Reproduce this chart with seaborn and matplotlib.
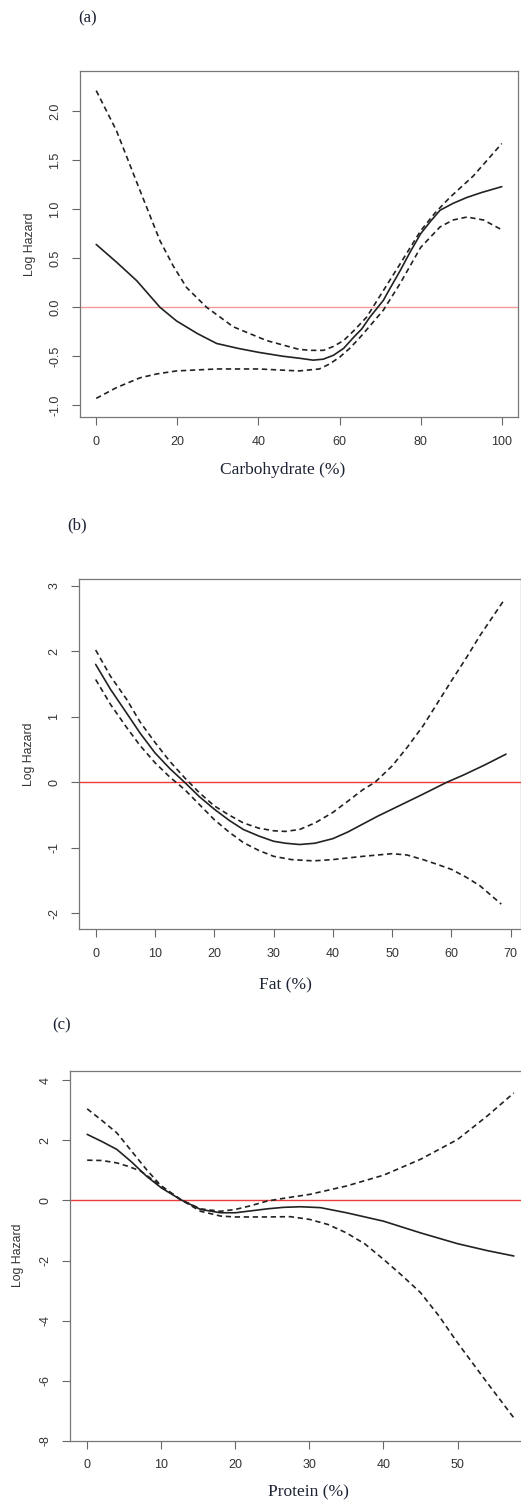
import numpy as np
import pandas as pd
import matplotlib
matplotlib.use('Agg')
import matplotlib.pyplot as plt
import seaborn as sns

sns.set_style("white")
plt.rcParams['font.family'] = ['Liberation Sans', 'DejaVu Sans']

# (a) Carbohydrate
carb_x = [0, 5, 10, 15.7, 19.8, 25, 29.7, 35, 40, 46, 50, 53.5, 56, 58.5, 61, 63.4, 65.5, 67.5, 70.8, 72, 74.9, 77.5, 80, 82.5, 84.8, 88, 91.4, 95, 100]
carb_fit = [0.64, 0.46, 0.27, 0.0, -0.14, -0.27, -0.37, -0.42, -0.46, -0.50, -0.52, -0.54, -0.53, -0.49, -0.42, -0.31, -0.22, -0.10, 0.07, 0.16, 0.37, 0.57, 0.75, 0.88, 0.99, 1.06, 1.12, 1.17, 1.23]
carb_up_x = [0, 5, 10.8, 15.7, 19, 22.3, 27.2, 33.8, 42, 50, 53, 56, 58.5, 61, 63.5, 66.7, 70.8, 74.9, 80, 83.5, 87.2, 93, 100]
carb_up = [2.21, 1.80, 1.19, 0.68, 0.42, 0.20, 0.0, -0.20, -0.34, -0.43, -0.44, -0.44, -0.40, -0.34, -0.24, -0.10, 0.17, 0.44, 0.78, 0.96, 1.12, 1.34, 1.67]
carb_lo_x = [0, 5, 10.8, 15, 19.8, 29.7, 40, 50, 55, 57.5, 60, 62.5, 65, 67.5, 70.8, 74.9, 80, 84.8, 88, 91.4, 95.5, 100]
carb_lo = [-0.93, -0.82, -0.72, -0.68, -0.65, -0.63, -0.63, -0.65, -0.63, -0.58, -0.51, -0.42, -0.31, -0.19, -0.03, 0.24, 0.61, 0.82, 0.89, 0.92, 0.89, 0.79]

# (b) Fat
fat_x = [0, 2.5, 5.2, 7.5, 10, 12.5, 15, 17.5, 20, 22.5, 24.9, 27.5, 30, 32, 34.4, 37, 40, 42.5, 45, 47.5, 50, 55, 59.2, 62, 65.5, 69.2]
fat_fit = [1.80, 1.42, 1.06, 0.75, 0.45, 0.21, 0.0, -0.22, -0.41, -0.58, -0.72, -0.82, -0.90, -0.93, -0.95, -0.93, -0.86, -0.76, -0.64, -0.52, -0.41, -0.19, 0.0, 0.11, 0.26, 0.43]
fat_up_x = [0, 2.5, 5.2, 7.5, 10, 12.5, 15, 17.5, 20, 22.5, 24.9, 27.5, 30, 32, 34.4, 37, 40, 42.5, 45.1, 47.1, 50, 52.5, 55.2, 57.5, 60, 62.5, 64.8, 69]
fat_up = [2.02, 1.62, 1.27, 0.92, 0.61, 0.32, 0.07, -0.16, -0.36, -0.50, -0.62, -0.70, -0.74, -0.75, -0.72, -0.62, -0.46, -0.29, -0.11, 0.0, 0.25, 0.53, 0.86, 1.19, 1.55, 1.90, 2.24, 2.80]
fat_lo_x = [0, 2.5, 5.2, 7.5, 10, 12.5, 15, 17.5, 20, 22.5, 24.9, 27.5, 30, 33, 36.7, 40, 45.1, 50, 52.5, 55.2, 57.5, 60, 62.5, 64.8, 68.4]
fat_lo = [1.57, 1.19, 0.84, 0.56, 0.30, 0.08, -0.11, -0.34, -0.57, -0.76, -0.92, -1.04, -1.13, -1.18, -1.20, -1.18, -1.13, -1.09, -1.11, -1.18, -1.25, -1.33, -1.45, -1.58, -1.86]

# (c) Protein
prot_x = [0, 2, 4, 6, 8, 10, 12.6, 15.3, 18, 20, 22, 24.3, 26.5, 28.8, 31.5, 35, 40, 45, 50, 54, 57.6]
prot_fit = [2.20, 1.96, 1.70, 1.28, 0.81, 0.42, 0.03, -0.30, -0.41, -0.41, -0.35, -0.28, -0.23, -0.21, -0.24, -0.41, -0.69, -1.08, -1.44, -1.67, -1.85]
prot_up_x = [0, 2, 4, 6, 8, 10, 12.6, 15.3, 18, 20, 22, 24.3, 27, 30, 35, 40, 45, 50, 54, 57.6]
prot_up = [3.05, 2.66, 2.25, 1.64, 1.03, 0.48, 0.03, -0.28, -0.36, -0.30, -0.18, -0.02, 0.09, 0.20, 0.48, 0.84, 1.37, 2.03, 2.81, 3.58]
prot_lo_x = [0, 2, 4, 5.6, 7.2, 8.5, 10, 12.6, 15.3, 18, 20, 24.3, 27.4, 30, 32.5, 35, 37.5, 40, 42.5, 45, 47.5, 50, 54, 57.6]
prot_lo = [1.34, 1.33, 1.25, 1.13, 0.98, 0.75, 0.48, 0.03, -0.36, -0.52, -0.55, -0.55, -0.54, -0.63, -0.80, -1.08, -1.45, -1.96, -2.50, -3.07, -3.85, -4.74, -6.07, -7.24]

panels = [
    dict(tag='(a)', xlabel='Carbohydrate (%)', fit=(carb_x, carb_fit), up=(carb_up_x, carb_up), lo=(carb_lo_x, carb_lo),
         box=(80, 518, 71, 417), xlim=(-4, 104), ylim=(-1.12, 2.41),
         xticks=[0, 20, 40, 60, 80, 100], yticks=[-1.0, -0.5, 0.0, 0.5, 1.0, 1.5, 2.0], yfmt='{:.1f}',
         ylab_x=30, xlab=(283, 470), tag_xy=(88, 18), zero='#f29a9a'),
    dict(tag='(b)', xlabel='Fat (%)', fit=(fat_x, fat_fit), up=(fat_up_x, fat_up), lo=(fat_lo_x, fat_lo),
         box=(79.3, 521.2, 579.3, 929), xlim=(-2.76, 71.76), ylim=(-2.24, 3.10),
         xticks=[0, 10, 20, 30, 40, 50, 60, 70], yticks=[-2, -1, 0, 1, 2, 3], yfmt='{:d}',
         ylab_x=29, xlab=(285, 985), tag_xy=(77, 525), zero='#ee3b3b'),
    dict(tag='(c)', xlabel='Protein (%)', fit=(prot_x, prot_fit), up=(prot_up_x, prot_up), lo=(prot_lo_x, prot_lo),
         box=(70, 534, 1070.7, 1440.7), xlim=(-2.32, 60.32), ylim=(-8.0, 4.32),
         xticks=[0, 10, 20, 30, 40, 50], yticks=[-8, -6, -4, -2, 0, 2, 4], yfmt='{:d}',
         ylab_x=18, xlab=(308, 1492), tag_xy=(62, 1025), zero='#ee3b3b'),
]

W, H = 521, 1501
fig = plt.figure(figsize=(W / 100, H / 100), dpi=100)

line_col = '#222222'
for p in panels:
    l, r, t, b = p['box']
    ax = fig.add_axes([l / W, 1 - b / H, (r - l) / W, (b - t) / H])
    ax.axhline(0, color=p['zero'], lw=1.0, zorder=1)
    fit = pd.DataFrame({'x': p['fit'][0], 'y': p['fit'][1]})
    up = pd.DataFrame({'x': p['up'][0], 'y': p['up'][1]})
    lo = pd.DataFrame({'x': p['lo'][0], 'y': p['lo'][1]})
    sns.lineplot(data=fit, x='x', y='y', ax=ax, color=line_col, lw=1.2, sort=False, zorder=3)
    for d in (up, lo):
        sns.lineplot(data=d, x='x', y='y', ax=ax, color=line_col, lw=1.2, sort=False,
                     linestyle=(0, (3.2, 2.2)), zorder=3)
    ax.set_xlim(*p['xlim'])
    ax.set_ylim(*p['ylim'])
    ax.set_xticks(p['xticks'])
    ax.set_xticklabels([str(v) for v in p['xticks']])
    ax.set_yticks(p['yticks'])
    ax.set_yticklabels([p['yfmt'].format(v) for v in p['yticks']], rotation=90, va='center')
    ax.set_xlabel('')
    ax.set_ylabel('')
    ax.tick_params(direction='out', length=5.5, width=0.8, color='#666666', labelsize=9,
                   labelcolor='#333333', pad=8, left=True, bottom=True)
    for s in ax.spines.values():
        s.set_color('#777777')
        s.set_linewidth(0.9)

    fig.text(p['ylab_x'] / W, 1 - ((t + b) / 2) / H, 'Log Hazard', rotation=90,
             ha='center', va='center', fontsize=8.8, color='#333333')
    fig.text(p['xlab'][0] / W, 1 - p['xlab'][1] / H, p['xlabel'], ha='center', va='center',
             fontsize=12.5, family=['Liberation Serif', 'DejaVu Serif'], color='#1c2333')
    fig.text(p['tag_xy'][0] / W, 1 - p['tag_xy'][1] / H, p['tag'], ha='center', va='center',
             fontsize=12, family=['Liberation Serif', 'DejaVu Serif'], color='#1c2333')

fig.savefig('out.png', dpi=100)
